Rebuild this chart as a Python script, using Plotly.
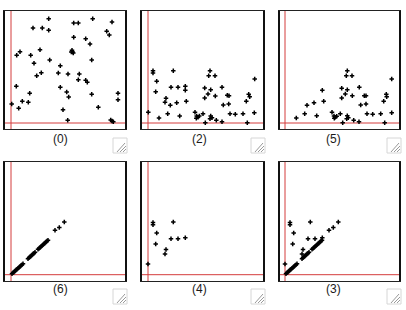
import plotly.graph_objects as go

# ---- data (units: offset from the red reference lines) ----
labels = ["(0)", "(2)", "(5)", "(6)", "(4)", "(3)"]

x0 = [37.7, 62.7, 67.3, 81.7, 101, 22, 31.3, 37.7, 95.7, 98.3, 62.7, 74.7, 79, 29,
      61, 61.7, 60.3, 62.3, 9, 5.7, 19.7, 38.7, 80.7, 23, 49.3, 30.3, 25.7, 47.3,
      57, 68.3, 67.3, 74.7, 76.3, 5.3, 49.3, 55.7, 57.7, 80.7, 18.7, 107, 107,
      11.3, 17.3, 0.7, 7.7, 87.3, 52, 56.7, 99.7, 101, 102.3]
y0 = [104.3, 100, 100, 104.3, 101, 95, 95, 92.7, 91.7, 88, 85.7, 84.3, 79, 73.3,
      72.7, 71, 71, 70, 71.3, 67.7, 67.7, 63, 63, 59.7, 57.3, 50.3, 47.3, 50,
      49, 49, 43.3, 42.7, 40.7, 36.7, 35.7, 31, 26, 28.7, 29.7, 29.7, 23.3,
      21.7, 20.7, 19, 14.7, 15.7, 13.3, 2.7, 3, 2, 1.3]

x2 = [5, 5, 25.3, 62, 60.7, 67, 106.7, 8.7, 23, 30, 37.3, 37.3, 56.7, 62.7, 74,
      7.7, 60, 67.3, 79.3, 81, 56.7, 100.7, 101.7, 18, 17, 22.3, 28.7, 38.3,
      75.3, 80.7, 98.3, 0.3, 19.7, 47, 55, 48.7, 50, 51.3, 48.3, 62.7, 64, 62,
      11, 31.7, 82, 87.3, 95, 106.3, 57.3, 68.3, 74, 99.3]
y2 = [52.3, 50, 52.3, 52.3, 47.3, 47.3, 44, 41.7, 35.7, 35.7, 36.7, 32.7, 35, 33.3,
      35.7, 31.3, 29, 27, 27.7, 27.3, 25, 28.7, 26.3, 24.7, 20.7, 17.7, 20.3, 21.7,
      18, 19, 21.7, 10.7, 9.3, 10.7, 9.3, 7, 5.7, 7, 4.7, 7, 5.3, 4.3,
      5, 7, 9.3, 8.7, 9.3, 10.3, 0.3, 2.7, 1.3, 0.3]

x5 = [62.3, 61.3, 67, 106.7, 37.3, 56.7, 62.3, 74.3, 60.3, 56.7, 67.3, 79.3, 81,
      101.3, 101.7, 22, 29, 38.7, 75.7, 81, 98.7, 11.3, 19.7, 31.7, 47, 55.3, 49,
      50.3, 51.7, 49.3, 62.3, 63.3, 61.7, 82, 87.7, 95.7, 106.7, 57.7, 68.7, 74, 99.7]
y5 = [52.3, 47.3, 47.3, 44, 32.7, 34.7, 33.3, 35.7, 29, 25, 27.3, 27.3, 27.3,
      28.7, 26.3, 17.7, 20.3, 21.7, 18, 19, 21.7, 5, 9.3, 7.3, 10.7, 9.3, 7,
      5.7, 6.7, 4.7, 7.3, 5.3, 4.3, 9.3, 8.7, 9.3, 10.3, 0.3, 2.7, 1.3, 0.3]

x6 = [1, 2, 3, 4, 5, 6, 7, 8, 9, 10, 11, 12,
      17, 18, 19, 20, 21, 22, 23, 24,
      27, 28, 29, 30, 31, 32, 33, 34, 35, 36, 37,
      44, 48.3, 53.3]
y6 = [1, 1.9, 2.8, 3.7, 4.6, 5.5, 6.4, 7.3, 8.2, 9.1, 10, 10.9,
      16, 17, 17.9, 18.8, 19.7, 20.6, 21.5, 22.4,
      25.5, 26.3, 27.2, 28.1, 29, 30, 30.9, 31.8, 32.7, 33.6, 34.5,
      44.5, 47.3, 52.7]

x4 = [5, 5, 25.3, 8.7, 23, 30, 37.3, 7.7, 18, 17, 0]
y4 = [52.3, 50, 52.7, 41.7, 36, 36, 37, 30.7, 25.3, 20.7, 10.7]

x3 = x6 + x4
y3 = y6 + y4

series = [(x0, y0), (x2, y2), (x5, y5), (x6, y6), (x4, y4), (x3, y3)]

# ---- layout geometry (pixels) ----
W, H = 406, 310
cols = [(5, 125, 11), (142, 263, 148), (280, 399, 285)]   # left, right, red x
rows = [(11, 129, 123), (162, 281, 274.7)]                 # top, bottom, red y
label_cx = [60, 199, 333]
label_cy = [139, 289]
RED = "#d43c3c"

fig = go.Figure()
shapes = []
annotations = []
idx = 0
for r, (top, bot, ry) in enumerate(rows):
    for c, (left, right, rx) in enumerate(cols):
        n = idx + 1
        xs, ys = series[idx]
        xa = "x" if n == 1 else f"x{n}"
        ya = "y" if n == 1 else f"y{n}"
        fig.add_trace(go.Scatter(
            x=xs, y=ys, mode="markers", xaxis=xa, yaxis=ya,
            marker=dict(symbol="cross-thin", size=3.2, color="black",
                        line=dict(color="black", width=1.5)),
            hoverinfo="skip", showlegend=False))
        ax = dict(domain=[left / W, right / W], range=[left - rx, right - rx],
                  showline=True, mirror=True, linecolor="#222", linewidth=1,
                  zeroline=False, showgrid=False, showticklabels=False, ticks="",
                  fixedrange=True, anchor=ya)
        ay = dict(domain=[1 - bot / H, 1 - top / H], range=[-(bot - ry), ry - top],
                  showline=True, mirror=True, linecolor="#111", linewidth=2,
                  zeroline=False, showgrid=False, showticklabels=False, ticks="",
                  fixedrange=True, anchor=xa)
        fig.update_layout(**{("xaxis" if n == 1 else f"xaxis{n}"): ax,
                             ("yaxis" if n == 1 else f"yaxis{n}"): ay})
        # red reference lines at x=0 and y=0
        shapes.append(dict(type="line", xref=xa, yref=f"{ya} domain",
                           x0=0, x1=0, y0=0, y1=1, layer="below",
                           line=dict(color=RED, width=1)))
        shapes.append(dict(type="line", xref=f"{xa} domain", yref=ya,
                           x0=0, x1=1, y0=0, y1=0, layer="below",
                           line=dict(color=RED, width=1)))
        annotations.append(dict(text=labels[idx], xref="paper", yref="paper",
                                x=label_cx[c] / W, y=1 - label_cy[r] / H,
                                xanchor="center", yanchor="middle", showarrow=False,
                                font=dict(family="Liberation Sans", size=12, color="#1a1a1a")))
        # resize grip decoration
        gx, gy = right - 12, bot + (9 if r == 0 else 8)
        def P(px, py):
            return px / W, 1 - py / H
        a, b = P(gx, gy), P(gx + 14, gy + 15)
        shapes.append(dict(type="rect", xref="paper", yref="paper",
                           x0=a[0], y0=b[1], x1=b[0], y1=a[1],
                           line=dict(color="#d6d6d6", width=1), fillcolor="rgba(0,0,0,0)"))
        for (sx, sy, ex, ey) in [(4, 14, 12, 5), (7, 14, 13, 8), (10, 14, 13, 11)]:
            s, e = P(gx + sx, gy + sy), P(gx + ex, gy + ey)
            shapes.append(dict(type="line", xref="paper", yref="paper",
                               x0=s[0], y0=s[1], x1=e[0], y1=e[1],
                               line=dict(color="#9a9a9a", width=1)))
        idx += 1

fig.update_layout(width=W, height=H, margin=dict(l=0, r=0, t=0, b=0),
                  paper_bgcolor="white", plot_bgcolor="white",
                  shapes=shapes, annotations=annotations, showlegend=False)
fig.write_html("out.html", config={"displayModeBar": False})
